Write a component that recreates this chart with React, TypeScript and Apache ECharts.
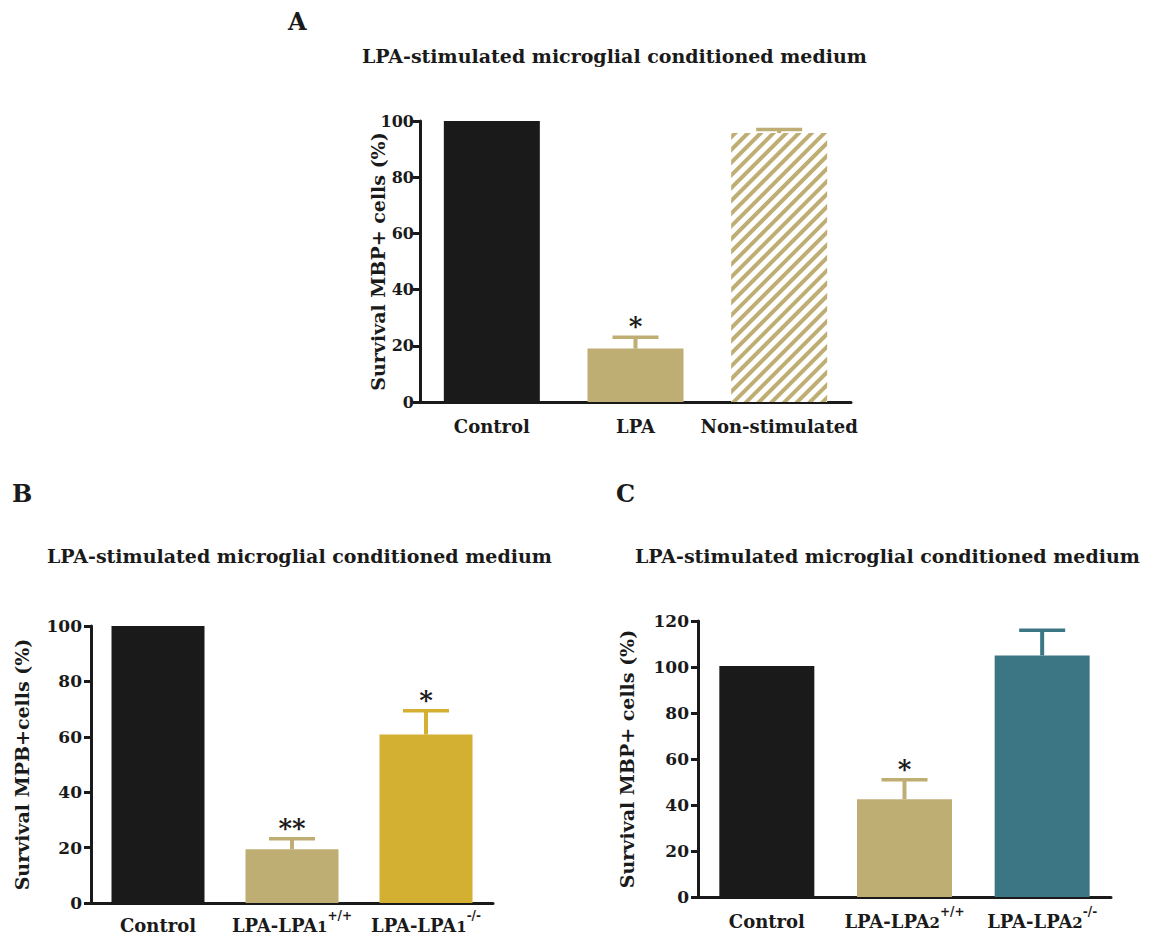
import React, { useEffect, useRef } from 'react';
import * as echarts from 'echarts';

const FONT = "'DejaVu Serif', serif";
const INK = '#1a1a1a';
const TAN = '#bfae74';
const GOLD = '#d4b032';
const TEAL = '#3c7583';

const titleText = 'LPA-stimulated microglial conditioned medium';

// Panel A
const catA = ['Control', 'LPA', 'Non-stimulated'];
const baseA = ['Control', 'LPA', 'Non-stimulated'];
const subA = ['', '', ''];
const supA = ['', '', ''];
const valA = [100, 19, 95.7];
const errA = [0, 4, 1.3];
const starA = ['', '*', ''];
const colA = [INK, TAN, TAN];
const hatchA = [false, false, true];
const yMaxA = 100;

// Panel B
const catB = ['Control', 'LPA-LPA1+/+', 'LPA-LPA1-/-'];
const baseB = ['Control', 'LPA-LPA', 'LPA-LPA'];
const subB = ['', '1', '1'];
const supB = ['', '+/+', '-/-'];
const valB = [100, 19.4, 60.8];
const errB = [0, 3.8, 8.6];
const starB = ['', '**', '*'];
const colB = [INK, TAN, GOLD];
const hatchB = [false, false, false];
const yMaxB = 100;

// Panel C
const catC = ['Control', 'LPA-LPA2+/+', 'LPA-LPA2-/-'];
const baseC = ['Control', 'LPA-LPA', 'LPA-LPA'];
const subC = ['', '2', '2'];
const supC = ['', '+/+', '-/-'];
const valC = [100.4, 42.5, 105];
const errC = [0, 8.5, 11];
const starC = ['', '*', ''];
const colC = [INK, TAN, TEAL];
const hatchC = [false, false, false];
const yMaxC = 120;

const yStep = 20;

const panels = [
  {
    cat: catA, base: baseA, sub: subA, sup: supA, val: valA, err: errA, star: starA, col: colA, hatch: hatchA, yMax: yMaxA,
    yName: 'Survival MBP+ cells (%)',
    grid: { left: 420, top: 121, width: 431, height: 281 },
    barWidth: 96, nameGap: 33, yFont: 16, yMargin: 6, xMargin: 9,
  },
  {
    cat: catB, base: baseB, sub: subB, sup: supB, val: valB, err: errB, star: starB, col: colB, hatch: hatchB, yMax: yMaxB,
    yName: 'Survival MPB+cells (%)',
    grid: { left: 91, top: 626, width: 402, height: 277 },
    barWidth: 93, nameGap: 60, yFont: 17, yMargin: 9, xMargin: 7,
  },
  {
    cat: catC, base: baseC, sub: subC, sup: supC, val: valC, err: errC, star: starC, col: colC, hatch: hatchC, yMax: yMaxC,
    yName: 'Survival MBP+ cells (%)',
    grid: { left: 698, top: 621, width: 413, height: 276 },
    barWidth: 95, nameGap: 62, yFont: 17, yMargin: 9, xMargin: 9,
  },
];

const boldText = { fontFamily: FONT, fontWeight: 'bold' as const, color: INK };

function buildOption() {
  const grid: any[] = [];
  const xAxis: any[] = [];
  const yAxis: any[] = [];
  const series: any[] = [];

  panels.forEach((p, i) => {
    grid.push({ ...p.grid, containLabel: false });
    xAxis.push({
      type: 'category',
      gridIndex: i,
      data: p.cat,
      axisLine: { lineStyle: { color: INK, width: 3 } },
      axisTick: { alignWithLabel: true, length: 7, lineStyle: { color: INK, width: 3 } },
      axisLabel: {
        margin: p.xMargin,
        interval: 0,
        formatter: (_v: string, idx: number) => {
          let s = `{b|${p.base[idx]}}`;
          if (p.sub[idx]) s += `{sub|${p.sub[idx]}}`;
          if (p.sup[idx]) s += `{sup|${p.sup[idx]}}`;
          return s;
        },
        rich: {
          b: { ...boldText, fontSize: 18, lineHeight: 24, verticalAlign: 'bottom' },
          sub: { ...boldText, fontSize: 15, lineHeight: 24, verticalAlign: 'bottom' },
          sup: { ...boldText, fontSize: 12, lineHeight: 14, verticalAlign: 'top' },
        },
      },
      splitLine: { show: false },
    });
    yAxis.push({
      type: 'value',
      gridIndex: i,
      min: 0,
      max: p.yMax,
      interval: yStep,
      name: p.yName,
      nameLocation: 'middle',
      nameRotate: 90,
      nameGap: p.nameGap,
      nameMoveOverlap: false,
      nameTextStyle: { ...boldText, fontSize: 19 },
      axisLine: { show: true, lineStyle: { color: INK, width: 3 } },
      axisTick: { show: true, length: 7, lineStyle: { color: INK, width: 3 } },
      axisLabel: { ...boldText, fontSize: p.yFont, margin: p.yMargin },
      splitLine: { show: false },
    });
    series.push({
      type: 'bar',
      xAxisIndex: i,
      yAxisIndex: i,
      barWidth: p.barWidth,
      data: p.val.map((v, j) => ({
        value: v,
        itemStyle: p.hatch[j]
          ? {
              color: '#ffffff',
              decal: {
                symbol: 'rect',
                symbolSize: 1,
                dashArrayX: [1, 0],
                dashArrayY: [4, 4.5],
                rotation: -Math.PI / 4,
                color: p.col[j],
              },
            }
          : { color: p.col[j] },
      })),
    });
    series.push({
      type: 'custom',
      xAxisIndex: i,
      yAxisIndex: i,
      z: 5,
      data: p.val.map((v, j) => [j, v, p.err[j]]),
      renderItem: (params: any, api: any) => {
        const j = params.dataIndex;
        const e = api.value(2);
        if (!e) return { type: 'group', children: [] };
        const base = api.coord([api.value(0), api.value(1)]);
        const top = api.coord([api.value(0), api.value(1) + e]);
        const c = p.col[j];
        const half = 23;
        const children: any[] = [
          { type: 'line', shape: { x1: base[0], y1: base[1], x2: base[0], y2: top[1] }, style: { stroke: c, lineWidth: 4 } },
          { type: 'line', shape: { x1: top[0] - half, y1: top[1], x2: top[0] + half, y2: top[1] }, style: { stroke: c, lineWidth: 3.5 } },
        ];
        if (p.star[j]) {
          children.push({
            type: 'text',
            x: top[0],
            y: top[1] - 11,
            style: {
              text: p.star[j],
              fill: INK,
              fontFamily: FONT,
              fontWeight: 'bold',
              fontSize: 26,
              align: 'center',
              verticalAlign: 'middle',
            },
          });
        }
        return { type: 'group', children };
      },
    });
  });

  const title = [
    { text: 'A', left: 288, top: 9, textStyle: { ...boldText, fontSize: 24 } },
    { text: titleText, left: 362, top: 46, textStyle: { ...boldText, fontSize: 19 } },
    { text: 'B', left: 12, top: 481, textStyle: { ...boldText, fontSize: 24 } },
    { text: titleText, left: 47, top: 546, textStyle: { ...boldText, fontSize: 19 } },
    { text: 'C', left: 616, top: 481, textStyle: { ...boldText, fontSize: 24 } },
    { text: titleText, left: 635, top: 546, textStyle: { ...boldText, fontSize: 19 } },
  ].map((t) => ({ ...t, padding: 0 }));

  return {
    animation: false,
    backgroundColor: '#ffffff',
    title,
    grid,
    xAxis,
    yAxis,
    series,
  };
}

export default function App() {
  const ref = useRef<HTMLDivElement>(null);
  useEffect(() => {
    if (!ref.current) return;
    const chart = echarts.init(ref.current, undefined, { renderer: 'svg' });
    chart.setOption(buildOption() as any);
    return () => chart.dispose();
  }, []);
  return (
    <div
      ref={ref}
      style={{ position: 'absolute', left: 0, top: 0, width: 1150, height: 938, background: '#fff' }}
    />
  );
}
